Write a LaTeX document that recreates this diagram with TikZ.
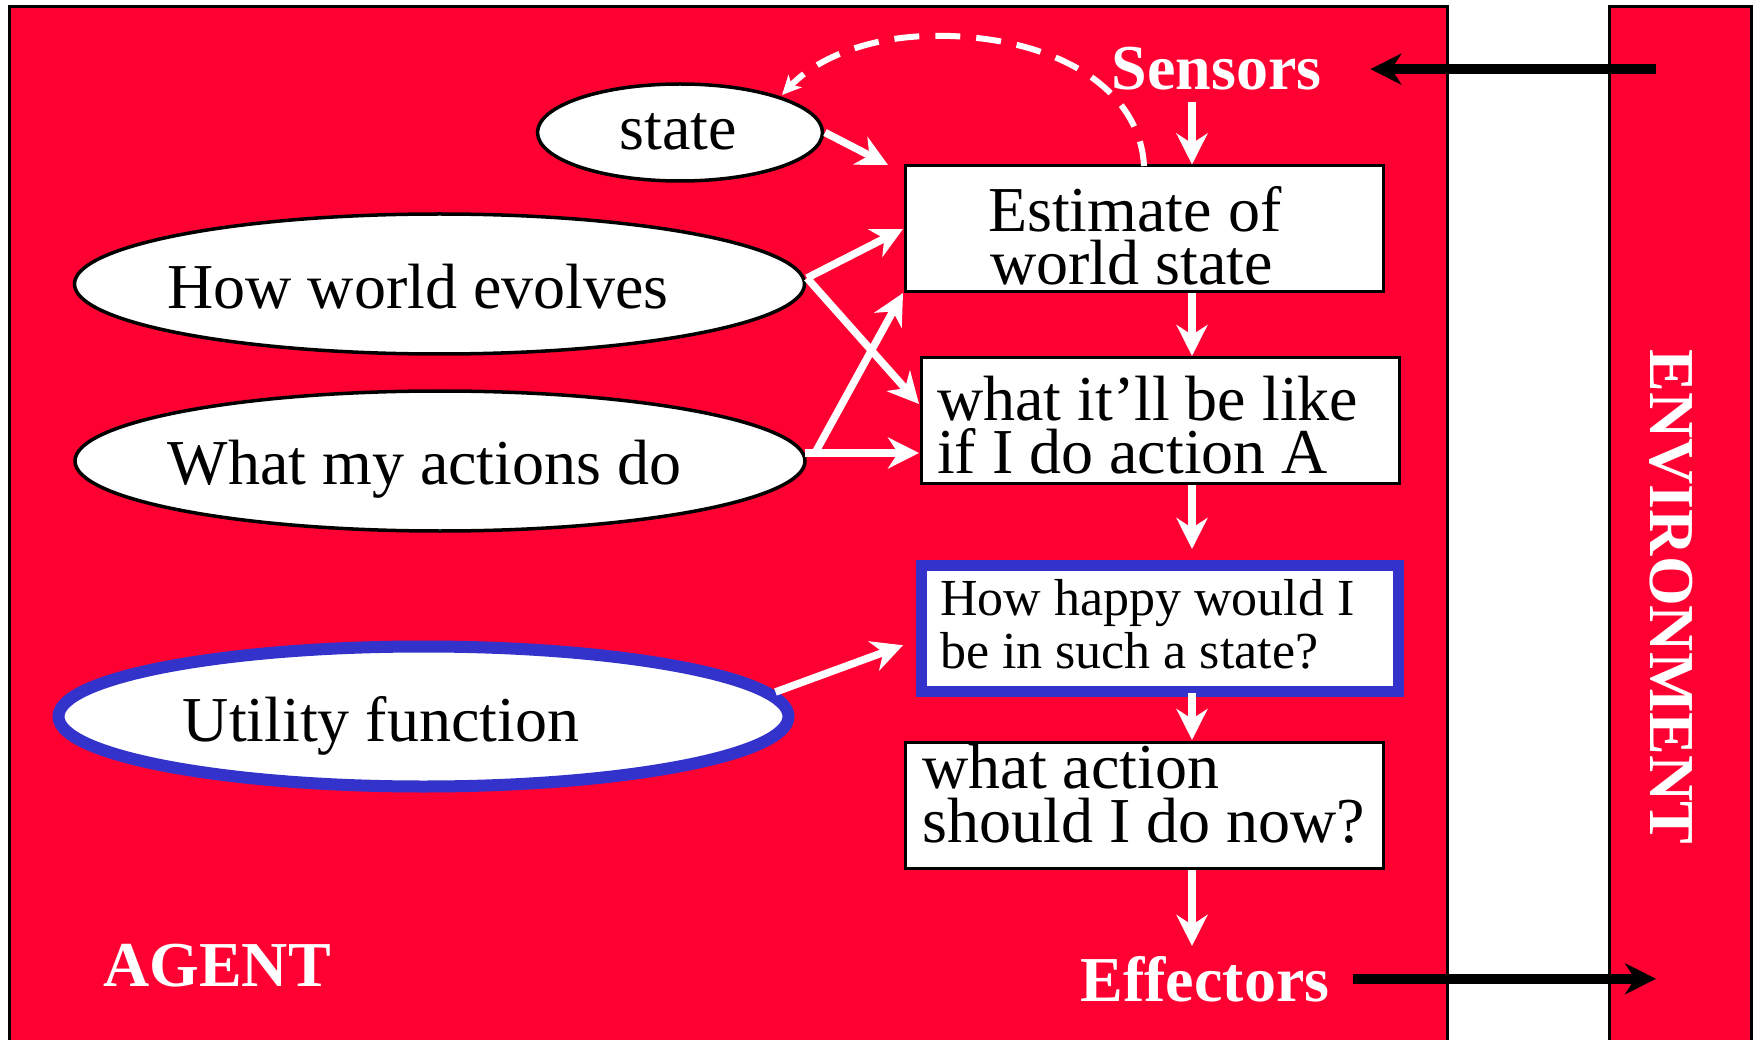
\documentclass[tikz,border=0pt]{standalone}
\usepackage{fontspec}
\setmainfont{Liberation Serif}
\usetikzlibrary{arrows.meta,shapes.geometric,calc}
\definecolor{panelred}{RGB}{255,0,51}
\definecolor{utilblue}{RGB}{51,51,204}
\begin{document}
\begin{tikzpicture}[x=1pt,y=-1pt,
  every node/.style={inner sep=0pt,outer sep=0pt},
  panel/.style={rectangle,draw=black,line width=3pt,fill=panelred,anchor=north west},
  oval/.style={ellipse,draw=black,line width=3.5pt,fill=white,minimum width=730pt,minimum height=140pt},
  goodoval/.style={oval,draw=utilblue,line width=12pt},
  stepbox/.style={rectangle,draw=black,line width=3pt,fill=white,minimum width=478pt,minimum height=126pt},
  goodbox/.style={stepbox,draw=utilblue,line width=11pt},
  txt/.style={font=\fontsize{64}{53}\selectfont,text=black},
  smalltxt/.style={font=\fontsize{52}{53}\selectfont,text=black},
  lbl/.style={font=\fontsize{64}{64}\selectfont\bfseries,text=white},
  flow/.style={draw=white,line width=7.5pt,-{Stealth[length=31pt,width=31pt,inset=10pt]}},
  dashflow/.style={draw=white,line width=6pt,dash pattern=on 25pt off 16pt,-{Stealth[length=19pt,width=18pt,inset=5pt]}},
  feed/.style={draw=black,line width=10pt,-{Stealth[length=31pt,width=31pt,inset=10pt]}}]

\useasboundingbox (0,0) rectangle (1756,1040);
\clip (0,0) rectangle (1756,1040);
\fill[white] (0,0) rectangle (1756,1040);

% agent and environment panels
\node[panel,minimum width=1438pt,minimum height=1100pt] (agent) at (9,6.5) {};
\node[panel,minimum width=142pt,minimum height=1100pt] (env) at (1609,6.5) {};

% knowledge ovals
\node[oval,minimum width=285pt,minimum height=97pt] (state) at (680,132.5) {};
\node[oval] (evolve) at (439.5,284) {};
\node[oval] (acts) at (440,461) {};
\node[goodoval] (util) at (423.5,716.5) {};
\node[txt,anchor=base] (statet) at (678,150) {state};
\node[txt,anchor=base] (evolvet) at (418,309) {How world evolves};
\node[txt,anchor=base] (actst) at (424.5,484) {What my actions do};
\node[txt,anchor=base] (utilt) at (381,741) {Utility function};

% reasoning steps
\node[stepbox] (est) at (1144,229) {};
\node[stepbox] (wib) at (1160,420.5) {};
\node[goodbox,minimum width=477pt,minimum height=126.5pt] (hap) at (1160,628.25) {};
\node[stepbox] (act) at (1144,805) {};
\node[txt,anchor=base west] (est1) at (988,232) {Estimate of};
\node[txt,anchor=base west] (est2) at (990,285) {world state};
\node[txt,anchor=base west] (wib1) at (937,420) {what it’ll be like};
\node[txt,anchor=base west] (wib2) at (937,473) {if I do action A};
\node[smalltxt,anchor=base west] (hap1) at (940,615) {How happy would I};
\node[smalltxt,anchor=base west] (hap2) at (940,668) {be in such a state?};
\node[txt,anchor=base west] (act1) at (922.5,788) {what action};
\node[txt,anchor=base west] (act2) at (922.5,842) {should I do now?};

% panel labels
\node[lbl,anchor=base] (sens) at (1216.5,90) {Sensors};
\node[lbl,anchor=base] (eff) at (1205,1001) {Effectors};
\node[lbl,anchor=base] (agentl) at (217,986) {AGENT};
\node[lbl,anchor=base,rotate=-90] (envl) at (1650,597) {ENVIRONMENT};

% vertical chain
\coordinate (spine) at (1192,0);
\draw[flow] ($(sens.south -| spine)+(0,11)$) -- ($(est.north -| spine)+(0,-1.5)$);
\draw[flow] ($(est.south -| spine)+(0,1.5)$) -- ($(wib.north -| spine)+(0,-1.5)$);
\draw[flow] ($(wib.south -| spine)+(0,1.5)$) -- ($(hap.north -| spine)+(0,-16)$);
\draw[flow] ($(hap.south -| spine)+(0,1.5)$) -- ($(act.north -| spine)+(0,-2)$);
\draw[flow] ($(act.south -| spine)+(0,1.5)$) -- ($(eff.north -| spine)+(0,-10)$);

% knowledge feeding the steps
\draw[flow] ($(state.east)+(2.5,0)$) -- ($(est.north west)+(-17,-1)$);
\draw[flow] ($(evolve.east)+(2.5,-6)$) -- ($(est.west)+(-2,0)$);
\draw[flow] ($(evolve.east)+(2.5,-6)$) -- ($(wib.west)+(-2,-16.5)$);
\draw[flow] ($(acts.east)+(10,-8)$) -- ($(est.south west)+(-2,1)$);
\draw[flow] ($(acts.east)+(0,-8)$) -- ($(wib.west)+(-2,32.5)$);
\draw[flow] ($(util.east)+(-13,-24.5)$) -- ($(hap.west)+(-18.5,17)$);

% state update loop
\coordinate (looptop) at (950,36);
\draw[dashflow] (est.north) .. controls (1140,90) and (1060,40) .. (looptop)
  .. controls (870,33) and (815,60) .. ($(state.center)+(102,-37.5)$);

% percepts in, actions out
\draw[feed] ($(sens.east -| env.west)+(47,0)$) -- ($(sens.east)+(49,0)$);
\draw[feed] ($(eff.east)+(24,0)$) -- ($(eff.east -| env.west)+(47,0)$);
\end{tikzpicture}
\end{document}
